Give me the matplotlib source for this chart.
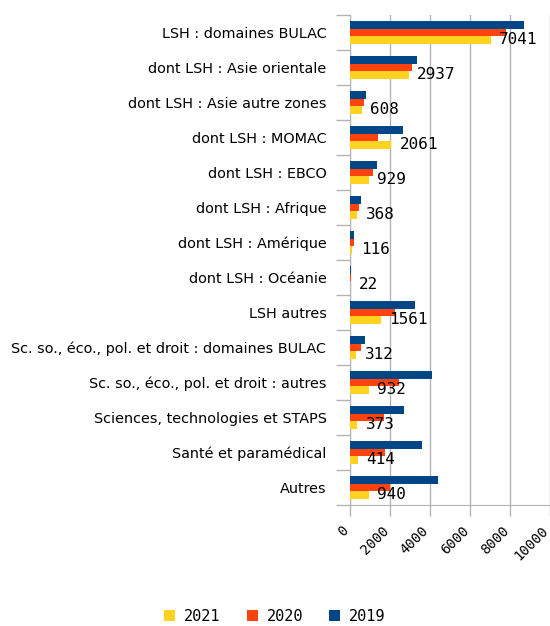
import numpy as np
import matplotlib.pyplot as plt

categories = [
    "LSH : domaines BULAC",
    "dont LSH : Asie orientale",
    "dont LSH : Asie autre zones",
    "dont LSH : MOMAC",
    "dont LSH : EBCO",
    "dont LSH : Afrique",
    "dont LSH : Amérique",
    "dont LSH : Océanie",
    "LSH autres",
    "Sc. so., éco., pol. et droit : domaines BULAC",
    "Sc. so., éco., pol. et droit : autres",
    "Sciences, technologies et STAPS",
    "Santé et paramédical",
    "Autres",
]
v2021 = [7041, 2937, 608, 2061, 929, 368, 116, 22, 1561, 312, 932, 373, 414, 940]
v2020 = [7800, 3100, 700, 1400, 1150, 450, 190, 50, 2250, 550, 2450, 1700, 1750, 2000]
v2019 = [8700, 3350, 800, 2650, 1330, 550, 220, 70, 3250, 750, 4100, 2700, 3600, 4400]
xticks = [0, 2000, 4000, 6000, 8000, 10000]

c2021, c2020, c2019 = "#ffd320", "#ff420e", "#004586"
grey = "#b3b3b3"

fig = plt.figure(figsize=(5.5, 6.26), dpi=100)
ax = fig.add_axes([350 / 550, 1 - 505 / 626, 200 / 550, 490 / 626])

y = np.arange(len(categories))
h = 0.215
ax.barh(y - h, v2019, height=h, color=c2019, label="2019", zorder=3)
ax.barh(y, v2020, height=h, color=c2020, label="2020", zorder=3)
ax.barh(y + h, v2021, height=h, color=c2021, label="2021", zorder=3)

for yi, v in zip(y, v2021):
    ax.annotate(str(v), (v, yi + h), xytext=(6, 0.5), textcoords="offset points",
                va="center", ha="left", fontsize=11.5, family="DejaVu Sans Mono",
                color="black", zorder=4)

ax.set_xlim(0, 10000)
ax.set_ylim(len(categories) - 0.5, -0.5)
ax.set_xticks(xticks)
ax.set_xticklabels([])
# rotated tick labels, nudged left so the last one stays inside the figure
for t in xticks:
    ax.annotate(str(t), (t, 0), xycoords=("data", "axes fraction"),
                xytext=(-2.5, -17), textcoords="offset points",
                rotation=45, ha="right", va="center", rotation_mode="anchor",
                family="DejaVu Sans Mono", fontsize=10, annotation_clip=False)
ax.set_yticks(y)
ax.set_yticklabels(categories, fontsize=10.4)
ax.tick_params(axis="y", length=0, pad=17)
ax.set_yticks(np.arange(-0.5, len(categories), 1), minor=True)
ax.tick_params(axis="y", which="minor", length=10, color=grey, width=1)
ax.tick_params(axis="x", length=8, color=grey, width=1)

ax.grid(axis="x", color=grey, linewidth=1, zorder=0)
for s in ["top", "right"]:
    ax.spines[s].set_visible(False)
for s in ["left", "bottom"]:
    ax.spines[s].set_color(grey)

handles, labels = ax.get_legend_handles_labels()
fig.legend(handles[::-1], labels[::-1], loc="lower center", ncol=3,
           bbox_to_anchor=(0.5, -0.018), frameon=False,
           handlelength=0.7, handleheight=0.7, columnspacing=1.7,
           handletextpad=0.6, prop={"family": "DejaVu Sans Mono", "size": 11})

fig.savefig("out.png", dpi=100)
